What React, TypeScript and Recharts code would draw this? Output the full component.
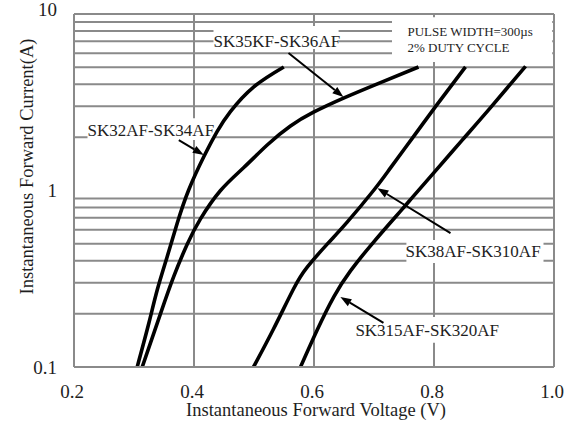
import React from 'react';
import { LineChart, Line, XAxis, YAxis, ReferenceLine, ReferenceArea, ReferenceDot, Label } from 'recharts';

const FONT = '"Liberation Serif", "Times New Roman", serif';
const GRID = '#8a8a8a';
const TEXT = '#1e1e1e';

const xTicks = [0.2, 0.4, 0.6, 0.8, 1.0];
const yTicks = [0.1, 1, 10];
const xGridValues = [0.4, 0.6, 0.8, 1.0];
const yGridValues = [0.2, 0.3, 0.4, 0.5, 0.6, 0.7, 0.8, 0.9, 2, 3, 4, 5, 6, 7, 8, 9, 10];

// SK32AF-SK34AF
const sk32V = [0.3053, 0.3247, 0.3387, 0.3553, 0.372, 0.3908, 0.4163, 0.4387, 0.461, 0.4997, 0.5497];
const sk32I = [0.1, 0.1769, 0.2731, 0.4217, 0.6519, 1.0, 1.552, 2.164, 2.81, 3.868, 5.01];
// SK35KF-SK36AF
const sk35V = [0.3137, 0.3442, 0.3663, 0.3887, 0.4108, 0.4442, 0.483, 0.522, 0.5608, 0.5992, 0.6492, 0.7108, 0.7742];
const sk35I = [0.1, 0.2007, 0.326, 0.496, 0.69, 1.0, 1.35, 1.811, 2.32, 2.777, 3.338, 4.087, 5.01];
// SK38AF-SK310AF
const sk38V = [0.4992, 0.5325, 0.5658, 0.5887, 0.622, 0.6553, 0.6992, 0.7275, 0.7658, 0.8025, 0.8525];
const sk38I = [0.1, 0.1642, 0.2766, 0.368, 0.4968, 0.662, 1.0, 1.343, 2.02, 2.985, 5.02];
// SK315AF-SK320AF
const sk315V = [0.5775, 0.6053, 0.633, 0.6608, 0.6997, 0.7442, 0.7658, 0.7992, 0.847, 0.8942, 0.9525];
const sk315I = [0.1, 0.162, 0.2498, 0.3503, 0.5121, 0.7643, 0.9296, 1.255, 1.93, 2.949, 5.055];

const seriesNames = ['SK32AF-SK34AF', 'SK35KF-SK36AF', 'SK38AF-SK310AF', 'SK315AF-SK320AF'];

const toRows = (vs: number[], is: number[]) => vs.map((v, k) => ({ v, i: is[k] }));
const seriesData = [toRows(sk32V, sk32I), toRows(sk35V, sk35I), toRows(sk38V, sk38I), toRows(sk315V, sk315I)];

// annotation text (left edge, vertical centre) in data units
const labelTexts = [
  { text: 'SK35KF-SK36AF', v: 0.4325, i: 7.03, size: 17 },
  { text: 'SK32AF-SK34AF', v: 0.2225, i: 2.2, size: 17 },
  { text: 'SK38AF-SK310AF', v: 0.7525, i: 0.454, size: 17 },
  { text: 'SK315AF-SK320AF', v: 0.669, i: 0.162, size: 17 },
  { text: 'PULSE WIDTH=300\u00b5s', v: 0.7558, i: 7.91, size: 13 },
  { text: '2% DUTY CYCLE', v: 0.7558, i: 6.5, size: 13 },
];

// white masks behind labels
const labelBoxes = [
  { v1: 0.4325, v2: 0.641, i1: 6.34, i2: 8.55 },
  { v1: 0.2225, v2: 0.4325, i1: 1.93, i2: 2.57 },
  { v1: 0.754, v2: 0.9825, i1: 0.388, i2: 0.524 },
  { v1: 0.664, v2: 0.909, i1: 0.137, i2: 0.192 },
  { v1: 0.73, v2: 0.997, i1: 5.35, i2: 9.6 },
];

// arrows: from -> tip
const arrows = [
  { v1: 0.3747, i1: 1.93, v2: 0.4163, i2: 1.59 },
  { v1: 0.5575, i1: 6.01, v2: 0.649, i2: 3.39 },
  { v1: 0.8275, i1: 0.574, v2: 0.7058, i2: 1.03 },
  { v1: 0.7158, i1: 0.178, v2: 0.644, i2: 0.249 },
];

const ArrowShape = (p: any) => {
  const { x1, y1, x2, y2 } = p;
  const dx = x2 - x1;
  const dy = y2 - y1;
  const len = Math.sqrt(dx * dx + dy * dy) || 1;
  const ux = dx / len;
  const uy = dy / len;
  const hl = 11;
  const hw = 4;
  const bx = x2 - ux * hl;
  const by = y2 - uy * hl;
  const pts = `${x2},${y2} ${bx - uy * hw},${by + ux * hw} ${bx + uy * hw},${by - ux * hw}`;
  return (
    <g>
      <line x1={x1} y1={y1} x2={bx} y2={by} stroke="#000" strokeWidth={2} />
      <polygon points={pts} fill="#000" />
    </g>
  );
};

const XTick = (p: any) => {
  const { x, y, payload } = p;
  return (
    <text x={x - 2} y={y + 24} textAnchor="middle" dominantBaseline="central" fontFamily={FONT} fontSize={19} fill={TEXT}>
      {Number(payload.value).toFixed(1)}
    </text>
  );
};

const YTick = (p: any) => {
  const { x, y, payload } = p;
  const v = payload.value;
  return (
    <text x={x - 17} y={v === 10 ? y - 5 : y} textAnchor="end" dominantBaseline="central" fontFamily={FONT} fontSize={19} fill={TEXT}>
      {String(v)}
    </text>
  );
};

const XTitle = (p: any) => {
  const vb = p.viewBox || {};
  return (
    <text x={vb.x + vb.width / 2 + 2} y={vb.y + 43} textAnchor="middle" dominantBaseline="central" fontFamily={FONT} fontSize={18.5} fill={TEXT}>
      Instantaneous Forward Voltage (V)
    </text>
  );
};

const YTitle = (p: any) => {
  const vb = p.viewBox || {};
  const cx = vb.x + 27;
  const cy = vb.y + vb.height / 2 - 24;
  return (
    <text x={cx} y={cy} transform={`rotate(-90 ${cx} ${cy})`} textAnchor="middle" dominantBaseline="central" fontFamily={FONT} fontSize={18.5} fill={TEXT}>
      Instantaneous Forward Current(A)
    </text>
  );
};

export default function App() {
  return (
    <div style={{ position: 'absolute', left: 0, top: 0, background: '#fff' }}>
      <LineChart width={567} height={428} margin={{ top: 14, right: 13, bottom: 0, left: 0 }}>
        <XAxis
          type="number"
          dataKey="v"
          domain={[0.2, 1.0]}
          ticks={xTicks}
          allowDataOverflow
          height={61}
          tickSize={0}
          tickMargin={0}
          tickLine={false}
          axisLine={{ stroke: GRID, strokeWidth: 2 }}
          tick={<XTick />}
          interval={0}
        >
          <Label content={<XTitle />} />
        </XAxis>
        <YAxis
          type="number"
          scale="log"
          domain={[0.1, 10]}
          ticks={yTicks}
          allowDataOverflow
          width={74}
          tickSize={0}
          tickMargin={0}
          tickLine={false}
          axisLine={{ stroke: GRID, strokeWidth: 2 }}
          tick={<YTick />}
          interval={0}
        >
          <Label content={<YTitle />} />
        </YAxis>
        {yGridValues.map((g) => (
          <ReferenceLine key={'hy' + g} y={g} stroke={GRID} strokeWidth={2} zIndex={-90} />
        ))}
        {xGridValues.map((g) => (
          <ReferenceLine key={'vx' + g} x={g} stroke={GRID} strokeWidth={2} zIndex={-90} />
        ))}
        {labelBoxes.map((b, k) => (
          <ReferenceArea key={'box' + k} x1={b.v1} x2={b.v2} y1={b.i1} y2={b.i2} fill="#fff" fillOpacity={1} stroke="none" zIndex={-80} />
        ))}
        {seriesData.map((d, k) => (
          <Line
            key={seriesNames[k]}
            name={seriesNames[k]}
            data={d}
            dataKey="i"
            type="natural"
            stroke="#000"
            strokeWidth={3.6}
            dot={false}
            activeDot={false}
            isAnimationActive={false}
          />
        ))}
        {arrows.map((a, k) => (
          <ReferenceLine
            key={'arr' + k}
            segment={[{ x: a.v1, y: a.i1 }, { x: a.v2, y: a.i2 }]}
            shape={<ArrowShape />}
            zIndex={450}
          />
        ))}
        {labelTexts.map((t, k) => (
          <ReferenceDot
            key={'lbl' + k}
            x={t.v}
            y={t.i}
            r={1}
            zIndex={600}
            shape={(p: any) => (
              <text x={p.cx} y={p.cy} dominantBaseline="central" fontFamily={FONT} fontSize={t.size} fill={TEXT}>
                {t.text}
              </text>
            )}
          />
        ))}
      </LineChart>
    </div>
  );
}
